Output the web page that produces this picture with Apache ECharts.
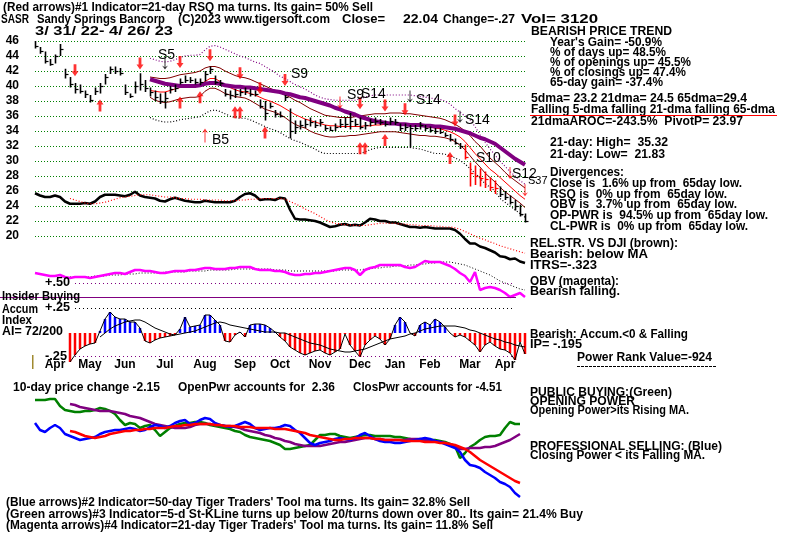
<!DOCTYPE html>
<html><head><meta charset="utf-8">
<script src="https://cdn.jsdelivr.net/npm/echarts@6/dist/echarts.min.js"></script>
<style>html,body{margin:0;padding:0;background:#fff}#c{width:800px;height:536px}</style>
</head><body><div id="c"></div>
<script>
// ---------- DATA ----------
const months = ['Apr','May','Jun','Jul','Aug','Sep','Oct','Nov','Dec','Jan','Feb','Mar','Apr'];
const monthIdx = [4,11,18,26,34,42,49,57,65,72,79,87,94];
const priceTicks = [20,22,24,26,28,30,32,34,36,38,40,42,44,46];

const hi = [46.0,45.2,44.6,43.6,44.2,45.6,42.3,41.2,40.4,40.2,
39.4,38.8,39.8,40.4,41.6,42.6,42.6,42.4,40.2,39.0,
40.6,41.7,40.8,39.8,39.4,39.0,39.2,40.0,40.2,41.0,
41.4,41.2,41.0,41.0,42.0,42.6,41.4,40.8,39.6,39.4,
39.6,39.6,39.8,39.6,39.4,38.2,38.0,37.8,36.8,36.6,
38.8,37.0,35.4,35.4,35.6,35.8,35.4,35.6,34.8,34.6,
35.0,35.6,35.8,36.4,35.6,35.8,35.2,35.6,35.8,35.6,
35.4,35.8,35.6,35.0,35.0,34.8,34.8,35.2,34.8,34.6,
34.4,34.4,33.8,33.6,33.0,32.4,32.2,29.8,29.4,29.0,
28.6,27.8,27.4,26.6,26.0,25.4,24.8,24.2,23.0];
const lo = [45.0,44.3,43.0,42.7,43.0,44.0,41.0,39.8,39.0,39.0,
38.4,37.8,38.8,39.0,40.2,41.6,41.6,41.4,38.8,38.4,
39.0,39.4,39.2,38.6,38.0,37.6,37.0,39.0,39.2,40.2,
40.4,40.4,40.2,40.1,40.6,41.6,40.2,40.0,38.6,38.2,
38.4,38.6,38.8,38.6,38.6,37.0,35.4,37.0,35.8,35.8,
38.0,33.0,33.6,34.2,34.4,34.6,34.4,34.6,34.0,34.0,
34.0,34.4,34.4,34.2,34.6,34.2,34.2,34.6,34.8,34.8,
34.6,34.8,34.8,34.0,34.0,31.8,34.0,34.2,34.0,33.8,
33.6,33.6,33.2,32.6,32.2,31.6,30.2,26.6,26.8,26.6,
26.4,26.0,25.6,25.2,24.8,24.2,23.4,22.6,21.8];
const cl = [45.3,44.6,43.3,43.0,44.0,45.0,41.6,40.2,39.6,39.4,
38.9,38.2,39.4,40.0,41.2,42.2,42.0,41.8,39.2,38.7,
40.0,40.2,39.8,39.2,38.6,38.0,38.4,39.6,39.8,40.6,
40.8,40.8,40.6,40.6,41.6,42.2,40.6,40.4,39.0,38.8,
39.0,39.2,39.4,39.0,39.0,37.4,36.4,37.4,36.2,36.0,
38.6,34.0,34.6,34.8,35.0,35.2,34.8,35.2,34.4,34.2,
34.6,35.0,35.0,35.4,35.0,34.6,34.8,35.2,35.4,35.2,
35.0,35.4,35.2,34.4,34.6,34.4,34.4,34.8,34.4,34.2,
34.0,33.9,33.5,33.0,32.4,32.0,30.6,28.4,28.0,27.8,
27.6,26.6,26.4,25.6,25.2,24.6,24.0,23.0,22.0];

const bandStart = 23;
const ma65 = [40.9,40.7,40.5,40.3,40.2,40.1,40.0,40.0,40.0,40.0,
40.1,40.3,40.4,40.4,40.3,40.1,40.0,39.9,39.9,39.8,
39.8,39.7,39.6,39.5,39.4,39.3,39.2,39.0,38.9,38.7,
38.5,38.4,38.2,38.0,37.8,37.6,37.4,37.1,36.9,36.6,
36.4,36.2,35.9,35.7,35.5,35.3,35.2,35.1,35.0,35.0,
34.9,34.9,34.8,34.8,34.8,34.7,34.7,34.6,34.6,34.5,
34.4,34.3,34.1,33.9,33.7,33.4,33.1,32.9,32.6,32.3,
31.8,31.3,30.8,30.3,29.9,29.5];
const ma21 = [39.4,39.3,39.2,39.2,39.4,39.6,39.8,39.9,40.0,40.1,
40.2,40.6,41.0,41.0,40.6,40.1,39.8,39.5,39.3,39.2,
39.0,38.8,38.5,38.2,38.0,37.7,37.4,37.0,36.6,36.2,
35.9,35.6,35.4,35.2,35.0,34.8,34.7,34.7,34.6,34.6,
34.6,34.6,34.6,34.7,34.7,34.8,34.8,34.9,34.9,34.9,
34.8,34.8,34.7,34.7,34.6,34.6,34.5,34.4,34.3,34.1,
33.9,33.6,33.2,32.6,31.8,31.0,30.3,29.6,28.9,28.4,
27.8,27.2,26.6,26.0,25.4,24.9];
const bandUp = [41.2,41.1,41.0,41.0,41.1,41.3,41.5,41.6,41.7,41.8,
42.0,42.4,42.6,42.6,42.4,42.0,41.7,41.4,41.2,41.1,
40.9,40.6,40.3,40.0,39.7,39.4,39.1,38.8,38.5,38.1,
37.8,37.4,37.0,36.7,36.4,36.1,36.0,35.9,35.8,35.8,
35.8,35.9,36.0,36.1,36.2,36.3,36.3,36.3,36.4,36.4,
36.4,36.3,36.3,36.2,36.1,36.0,35.9,35.8,35.7,35.5,
35.2,34.9,34.5,34.0,33.4,32.6,32.0,31.2,30.4,29.8,
29.2,28.5,27.9,27.4,26.9,26.4];
const bandLo = [38.5,38.1,37.9,37.8,37.9,38.1,38.3,38.4,38.5,38.5,
38.6,39.3,39.7,39.7,39.4,39.0,38.8,38.6,38.5,38.4,
38.1,37.7,37.3,36.9,36.7,36.5,36.2,35.8,35.3,34.9,
34.6,34.4,34.0,33.7,33.5,33.3,33.2,33.2,33.3,33.3,
33.4,33.4,33.5,33.6,33.7,33.8,33.9,33.9,33.9,33.9,
33.8,33.7,33.6,33.5,33.4,33.4,33.3,33.3,33.2,33.1,
32.9,32.6,32.1,31.5,30.7,29.9,29.2,28.4,27.8,27.2,
26.5,25.9,25.4,24.9,24.4,23.8];
const outerUp = [43.7,43.5,43.3,43.2,43.3,43.5,43.8,44.0,44.1,44.1,
44.2,44.8,45.3,45.4,45.2,44.9,44.6,44.3,44.0,43.8,
43.5,43.2,43.0,42.6,42.2,41.8,41.3,41.0,40.6,40.2,
39.9,39.6,39.2,38.8,38.5,38.3,38.2,38.1,38.1,38.1,
38.1,38.1,38.3,38.5,38.7,38.8,38.8,38.8,38.8,38.8,
38.8,38.8,38.8,38.7,38.6,38.5,38.4,38.3,38.2,38.0,
37.6,37.0,36.5,36.0,35.5,34.6,33.5,32.5,31.6,30.8,
30.0,29.3,28.6,28.0,27.4,26.9];
const outerLo = [35.8,35.5,35.3,35.2,35.2,35.3,35.5,35.6,35.7,35.8,
35.9,36.3,36.7,36.8,36.6,36.3,36.0,35.8,35.7,35.7,
35.5,35.2,34.9,34.6,34.3,34.1,33.8,33.4,33.0,32.7,
32.5,32.2,31.9,31.6,31.2,31.0,31.0,31.0,31.0,31.0,
31.0,31.0,31.0,31.2,31.5,31.7,31.8,31.8,31.8,31.8,
31.8,31.8,31.8,31.7,31.6,31.4,31.2,31.0,31.0,30.9,
30.7,30.4,30.1,29.6,29.0,28.4,27.7,27.0,26.5,26.0,
25.0,24.5,24.0,23.5,23.0,22.5];

const relStr = [25.7,25.4,25.2,25.2,25.4,25.2,24.6,24.3,24.3,24.3,
24.4,24.3,24.6,25.2,25.5,25.5,25.5,25.4,25.3,25.5,
25.9,25.4,25.2,25.1,25.0,24.7,24.6,24.9,25.1,24.9,
24.7,24.6,24.5,24.5,24.7,24.6,24.5,24.5,24.5,24.5,
24.7,25.2,25.6,25.7,25.4,24.8,24.9,24.9,24.8,25.1,
25.0,23.5,22.3,22.2,22.2,22.1,22.0,21.8,21.5,21.2,
21.3,21.5,21.6,21.4,21.5,21.4,21.8,22.3,22.2,22.0,
22.0,21.8,21.8,21.6,21.4,21.2,21.2,21.1,21.2,21.1,
21.0,21.0,21.0,21.0,20.8,20.3,19.6,19.0,19.0,18.6,
18.4,18.1,17.8,17.3,17.2,16.9,17.0,16.6,16.4];
const maStart = 7;
const relStrMa = [25.0,24.8,24.6,24.4,24.3,24.3,24.4,24.5,24.7,24.9,
25.1,25.2,25.3,25.4,25.5,25.5,25.5,25.4,25.3,25.2,
25.2,25.1,25.0,25.0,24.9,24.9,24.9,24.8,24.8,24.8,
24.8,24.7,24.7,24.7,24.8,24.8,24.9,24.9,25.0,25.0,
25.0,25.0,25.0,24.9,24.6,24.3,24.0,23.6,23.3,23.0,
22.6,22.2,21.9,21.7,21.6,21.5,21.5,21.4,21.4,21.4,
21.5,21.6,21.7,21.7,21.7,21.7,21.6,21.6,21.5,21.5,
21.4,21.4,21.4,21.3,21.3,21.2,21.2,21.1,20.9,20.6,
20.3,20.0,19.7,19.5,19.2,19.0,18.7,18.5,18.3,18.1,
17.9,17.7];

const obv = [0.60,0.59,0.58,0.57,0.57,0.58,0.56,0.55,0.56,0.56,
0.56,0.55,0.56,0.57,0.58,0.59,0.60,0.60,0.59,0.61,
0.63,0.63,0.62,0.62,0.61,0.60,0.60,0.61,0.62,0.62,
0.62,0.63,0.63,0.64,0.65,0.65,0.64,0.64,0.64,0.65,
0.65,0.66,0.66,0.66,0.64,0.63,0.63,0.63,0.62,0.62,
0.61,0.59,0.58,0.58,0.59,0.59,0.60,0.60,0.61,0.62,
0.63,0.64,0.65,0.65,0.63,0.58,0.63,0.65,0.66,0.68,
0.68,0.68,0.68,0.68,0.66,0.65,0.66,0.69,0.72,0.71,
0.71,0.71,0.69,0.67,0.64,0.60,0.57,0.51,0.61,0.43,
0.45,0.46,0.45,0.43,0.40,0.36,0.38,0.40,0.36];
const obvMa = [.56,.56,.56,.56,.56,.57,.57,.57,.58,.58,
.58,.59,.59,.59,.60,.60,.60,.60,.60,.61,
.61,.61,.61,.61,.62,.62,.62,.62,.63,.63,
.63,.63,.63,.64,.64,.64,.64,.64,.64,.64,
.64,.63,.63,.63,.62,.62,.62,.62,.62,.62,
.62,.62,.62,.62,.63,.63,.63,.63,.63,.64,
.64,.65,.65,.66,.66,.67,.67,.67,.68,.68,
.69,.69,.70,.70,.71,.71,.71,.70,.69,.68,
.66,.64,.62,.60,.58,.55,.52,.50,.48,.46,
.44,.43];

const accum = [-0.29,-0.22,-0.16,-0.13,-0.11,-0.10,0.02,0.14,0.21,0.16,
0.14,0.14,0.11,0.11,0.05,-0.08,-0.10,-0.07,-0.05,-0.04,
-0.03,-0.02,0.04,0.16,0.06,0.07,0.08,0.18,0.18,0.13,
0.08,-0.08,-0.09,-0.02,0.01,-0.04,0.08,0.09,0.09,0.08,
0.05,0.01,-0.04,-0.08,-0.14,-0.17,-0.20,-0.22,-0.20,-0.18,
-0.17,-0.20,-0.22,-0.19,-0.16,-0.01,-0.12,-0.18,-0.24,-0.12,
-0.07,-0.03,-0.06,-0.12,-0.06,0.08,0.16,0.11,0.00,-0.03,
0.08,0.11,0.08,0.14,0.11,0.06,0.00,-0.04,-0.02,-0.04,
-0.08,-0.12,-0.19,-0.12,-0.09,-0.13,-0.16,-0.17,-0.20,-0.27,
-0.09,-0.21];
const accumMaStart = 13;
const accumMa = [-0.04,0.00,0.04,0.07,0.09,0.11,0.12,0.13,0.13,0.11,
0.08,0.05,0.03,0.01,-0.01,-0.02,-0.01,0.00,0.01,0.02,
0.04,0.06,0.08,0.10,0.11,0.10,0.08,0.07,0.06,0.05,
0.04,0.03,0.02,0.01,0.01,0.01,0.00,0.00,-0.02,-0.04,
-0.06,-0.08,-0.10,-0.11,-0.12,-0.14,-0.16,-0.17,-0.18,-0.19,
-0.19,-0.18,-0.17,-0.16,-0.14,-0.12,-0.10,-0.08,-0.06,-0.05,
-0.04,-0.03,-0.01,0.00,0.02,0.04,0.05,0.06,0.07,0.07,
0.07,0.07,0.06,0.05,0.03,0.02,0.00,-0.02,-0.04,-0.06,
-0.07,-0.09,-0.10,-0.12,-0.13,-0.14];

const openPwr = [100,100,100,101,101,94,90,89,88,88,
89,89,90,92,91,89,86,80,75,77,
76,72,74,75,70,64,68,72,74,76,
77,77,78,78,77,75,74,73,72,71,
69,68,65,63,62,61,60,59,57,55,
51,51,52,53,54,55,60,65,65,66,
66,64,63,62,63,64,65,65,64,64,
64,64,63,63,62,61,60,60,60,60,
60,59,58,56,54,42,47,53,56,60,
63,64,64,65,72,78,76,76];
const closePwr = [77,70,68,72,75,72,66,64,62,60,
61,62,63,66,68,69,70,70,71,72,
71,69,70,73,75,74,72,74,77,79,
80,76,77,80,82,81,77,75,74,73,
74,76,78,76,72,70,71,72,72,73,
75,74,70,67,62,57,55,57,58,59,
61,62,61,60,62,65,67,64,61,59,
58,58,57,57,58,59,60,61,62,61,
59,58,56,54,52,48,40,35,34,32,
28,25,22,18,16,13,7,3];
const openPwrMa = [96,95,93,92,91,90,89,89,89,88,
87,86,84,83,82,80,78,76,75,74,
73,72,72,72,73,75,76,76,76,75,
75,74,74,73,72,70,69,68,67,65,
64,62,61,59,58,56,55,54,54,54,
54,55,56,57,58,58,59,60,61,62,
62,61,61,60,60,60,60,60,61,61,
61,60,59,59,58,57,55,53,51,51,
52,52,52,53,53,54,56,58,60,63,
66];
const closePwrMa = [69,68,66,64,63,62,63,64,66,67,
68,69,69,70,70,71,71,72,72,72,
73,74,74,75,75,76,76,76,76,75,
75,74,74,74,73,73,73,72,72,72,
72,71,71,71,70,69,68,67,65,64,
63,62,61,60,60,61,61,62,62,62,
62,61,61,60,60,60,60,59,59,59,
59,58,58,58,57,57,56,55,53,51,
48,44,40,37,34,31,28,25,22,19,
17];

// signal arrows: [dayIndex, price]
const sellArrows = [[8,42.1],[21,43.0],[29,43.2],[35,44.1],[41,41.7],[45,39.7],[50,40.8],[65,37.7],[70,37.4],[74,36.9],[84,35.4]];
const buyArrows = [[13,37.4],[29,37.8],[33,38.5],[40,36.5],[41,36.5],[46,33.8],[65,31.7],[66,31.7],[70,32.8],[83,30.4]];
const thinSellRed = [[61,37.8],[95,28.4],[98,26.1]];
const thinBuyRed = [[34,33.4]];
const thinSellBlack = [[26,43.0],[75,38.6],[85,35.9]];

// ---------- BUILD ----------
const N = hi.length;
const cats = Array.from({length:N}, (_, i) => { const k = monthIdx.indexOf(i); return k >= 0 ? months[k] : ''; });
const lead = (k, a) => Array(k).fill(null).concat(a);
const FF = '"Liberation Sans", Arial, sans-serif';
const redFrom = 86, redTo = 92;

const arrowPath = 'path://M5,0L10,5L7,5L7,12L3,12L3,5L0,5Z';
const thinPath = 'path://M3,0L6,4L3.5,2.5L3.5,12L2.5,12L2.5,2.5L0,4Z';

function line(data, xi, color, width, extra) {
  return Object.assign({type:'line', xAxisIndex:xi, yAxisIndex:xi, data, symbol:'none', showSymbol:false,
    lineStyle:{color, width}, silent:true, connectNulls:false}, extra||{});
}

const series = [
  line(lead(bandStart, outerUp), 0, '#800080', 1, {lineStyle:{color:'#800080', width:1.2, type:[1,2]}}),
  line(lead(bandStart, outerLo), 0, '#000', 1, {lineStyle:{color:'#000', width:1.2, type:[1,2]}}),
  line(lead(bandStart, bandUp), 0, '#800000', 1),
  line(lead(bandStart, bandLo), 0, '#800000', 1),
  line(lead(bandStart, ma21), 0, '#ff0000', 1),
  line(lead(bandStart, ma65), 0, '#800080', 4, {z:3}),
  line(relStr, 0, '#000', 2.5, {clip:false}),
  line(lead(maStart, relStrMa), 0, '#ff0000', 1, {clip:false, lineStyle:{color:'#ff0000', width:1.2, type:[1,2]}}),
  {
    type:'custom', xAxisIndex:0, yAxisIndex:0, z:4, silent:true,
    data: hi.map((h, i) => [i, lo[i], h, cl[i]]),
    encode:{x:0, y:[1,2,3]},
    renderItem(params, api) {
      const i = api.value(0);
      const pL = api.coord([i, api.value(1)]), pH = api.coord([i, api.value(2)]), pC = api.coord([i, api.value(3)]);
      const col = (i >= redFrom && i <= redTo) ? '#ff0000' : '#000';
      const x = Math.round(pL[0]) + 0.5;
      const yc = Math.round(pC[1]) + 0.5;
      return {type:'group', children:[
        {type:'line', shape:{x1:x, y1:pL[1], x2:x, y2:pH[1]}, style:{stroke:col, lineWidth:1.6}},
        {type:'line', shape:{x1:x, y1:yc, x2:x+3, y2:yc}, style:{stroke:col, lineWidth:1.2}}
      ]};
    }
  },
  {type:'scatter', xAxisIndex:0, yAxisIndex:0, data:sellArrows, symbol:arrowPath, symbolRotate:180, symbolSize:[7,12], itemStyle:{color:'#ff0000'}, z:6, silent:true},
  {type:'scatter', xAxisIndex:0, yAxisIndex:0, data:buyArrows, symbol:arrowPath, symbolSize:[7,12], itemStyle:{color:'#ff0000'}, z:6, silent:true},
  {type:'scatter', xAxisIndex:0, yAxisIndex:0, data:thinSellRed, symbol:thinPath, symbolRotate:180, symbolSize:[6,12], itemStyle:{color:'#ff0000'}, z:6, silent:true},
  {type:'scatter', xAxisIndex:0, yAxisIndex:0, data:thinBuyRed, symbol:thinPath, symbolSize:[6,14], itemStyle:{color:'#ff0000'}, z:6, silent:true},
  {type:'scatter', xAxisIndex:0, yAxisIndex:0, data:thinSellBlack, symbol:thinPath, symbolRotate:180, symbolSize:[6,12], itemStyle:{color:'#000'}, z:6, silent:true},

  // OBV / accumulation panel
  {type:'bar', xAxisIndex:1, yAxisIndex:1, data:lead(maStart, accum), barWidth:2.5, silent:true, clip:false,
    itemStyle:{color: p => (p.value >= 0 ? '#0000ff' : '#ff0000')},
    markLine:{silent:true, symbol:'none', label:{show:false}, animation:false, data:[
      [{coord:[8,0.5], lineStyle:{color:'#800080', type:[1,3], width:1}}, {coord:[96,0.5]}],
      [{coord:[8,0.25], lineStyle:{color:'#000', type:[1,3], width:1}}, {coord:[96,0.25]}],
      [{coord:[8,-0.235], lineStyle:{color:'#800080', type:[1,3], width:1}}, {coord:[96,-0.235]}]
    ]}},
  line(lead(maStart, accum), 1, '#000', 1, {clip:false}),
  line(lead(accumMaStart, accumMa), 1, '#000', 1),
  line(lead(maStart, obvMa), 1, '#000', 1, {lineStyle:{color:'#000', width:1, type:[1,2]}}),
  line(obv, 1, '#ff00ff', 2.5),

  // power panel
  line(openPwr, 2, '#008000', 2.5),
  line(lead(maStart, openPwrMa), 2, '#800080', 2.5),
  line(closePwr, 2, '#0000ff', 2.5),
  line(lead(maStart, closePwrMa), 2, '#ff0000', 2.5)
];

// text helper: optional target width -> horizontal scale to match the reference's narrow bitmap font
const mctx = document.createElement('canvas').getContext('2d');
function T(x, y, text, font, w, fill) {
  font = font || ('bold 12px ' + FF);
  let sx = 1;
  if (w) { mctx.font = font; const m = mctx.measureText(text).width; if (m > 0) sx = w / m; }
  return {type:'text', x, y, scaleX: sx, z:100, silent:true,
    style:{text, font, fill: fill || '#000', verticalAlign:'middle', align:'left'}};
}
const B = 'bold 12px ' + FF;
const S = '14px ' + FF;
const graphics = [
  T(3,8,'(Red arrows)#1 Indicator=21-day RSQ ma turns. Its gain= 50% Sell', B, 370),
  T(1,20,'SASR', B, 28), T(37,20,'Sandy Springs Bancorp', B, 128), T(178,20,'(C)2023 www.tigersoft.com', B, 152),
  T(342,20,'Close=', B, 43), T(403,20,'22.04', B, 35), T(443,20,'Change=-.27', B, 72), T(521,20,'Vol= 3120', B, 77),
  T(35,32,'3/ 31/ 22- 4/ 26/ 23', B, 138),

  T(531,32,'BEARISH PRICE TREND', B, 141),
  T(550,43,"Year's Gain= -50.9%", B, 112),
  T(550,53,'% of days up= 48.5%', B, 116),
  T(550,63,'% of openings up= 45.5%', B, 141),
  T(550,73,'% of closings up= 47.4%', B, 136),
  T(550,83,'65-day gain= -37.4%', B, 113),
  T(531,99,'5dma= 23.2 21dma= 24.5 65dma=29.4', B, 216),
  T(531,110,'Falling 5-dma falling 21-dma falling 65-dma', B, 244),
  {type:'line', shape:{x1:530, y1:115.5, x2:777, y2:115.5}, style:{stroke:'#ff0000', lineWidth:1}, z:100, silent:true},
  T(531,122,'21dmaAROC=-243.5%  PivotP= 23.97', B, 212),
  T(550,143,'21-day: High=  35.32', B, 118),
  T(550,155,'21-day: Low=  21.83', B, 115),
  T(550,173,'Divergences:', B, 74),
  T(550,184,'Close is  1.6% up from  65day low.', B, 192),
  T(550,195,'RSQ is  0% up from  65day low.', B, 177),
  T(550,205,'OBV is  3.7% up from  65day low.', B, 187),
  T(550,216,'OP-PWR is  94.5% up from  65day low.', B, 218),
  T(550,227,'CL-PWR is  0% up from  65day low.', B, 198),

  T(530,244,'REL.STR. VS DJI (brown):', B, 148),
  T(530,255,'Bearish: below MA', B, 118),
  T(530,266,'ITRS=-.323', B, 67),
  T(530,282,'OBV (magenta):', B, 89),
  T(530,292,'Bearish falling.', B, 90),
  T(530,335,'Bearish: Accum.<0 & Falling', B, 158),
  T(530,345,'IP= -.195', B, 52),
  T(577,358,'Power Rank Value=-924', B, 135),
  {type:'line', shape:{x1:577, y1:366.5, x2:716, y2:366.5}, style:{stroke:'#000', lineWidth:1, lineDash:[3,1]}, z:100, silent:true},

  T(530,393,'PUBLIC BUYING:(Green)', B, 142),
  T(530,402,'OPENING POWER', B, 105),
  T(530,411,'Opening Power>its Rising MA.', B, 159),
  T(530,447,'PROFESSIONAL SELLING: (Blue)', B, 192),
  T(530,456,'Closing Power < its Falling MA.', B, 175),

  T(45,283,'+.50', B, 25),
  {type:'line', shape:{x1:0, y1:297.5, x2:516, y2:297.5}, style:{stroke:'#800080', lineWidth:1}, z:50, silent:true},
  T(2,297,'Insider Buying', B, 78),
  T(2,310,'Accum', B, 36), T(45,308,'+.25', B, 25),
  T(2,321,'Index', B, 30),
  T(2,332,'AI= 72/200', B, 61),
  T(45,357,'-.25', B, 22),
  {type:'rect', shape:{x:32, y:355, width:1.5, height:14}, style:{fill:'#a08a30'}, z:100, silent:true},

  T(13,388,'10-day price change -2.15', B, 147),
  T(178,388,'OpenPwr accounts for  2.36', B, 157),
  T(353,388,'ClosPwr accounts for -4.51', B, 149),
  T(6,503,"(Blue arrows)#2 Indicator=50-day Tiger Traders' Tool ma turns. Its gain= 32.8% Sell", B, 464),
  T(6,515,'(Green arrows)#3 Indicator=5-d St-KLine turns up below 20/turns down over 80.. Its gain= 21.4% Buy', B, 577),
  T(6,526,"(Magenta arrows)#4 Indicator=21-day Tiger Traders' Tool ma turns. Its gain= 11.8% Sell", B, 487),

  T(158,55,'S5', S), T(212,140,'B5', S), T(291,74,'S9', S),
  T(347,95,'S9', S), T(361,94,'S14', S), T(416,100,'S14', S), T(465,120,'S14', S),
  T(476,158,'S10', S), T(512,174,'S12', S), T(528,181,'S37', '11px ' + FF)
];

const option = {
  animation:false,
  backgroundColor:'#fff',
  grid:[
    {left:35, right:275, top:41, height:195},
    {left:35, right:275, top:240, height:117},
    {left:35, right:275, top:390, height:110}
  ],
  xAxis:[
    {gridIndex:0, type:'category', data:cats, boundaryGap:false, show:false},
    {gridIndex:1, type:'category', data:cats, boundaryGap:false, axisLine:{show:false}, axisTick:{show:false}, splitLine:{show:false},
      axisLabel:{interval:0, fontWeight:'bold', fontSize:12, fontFamily:FF, color:'#000', margin:2}},
    {gridIndex:2, type:'category', data:cats, boundaryGap:false, show:false}
  ],
  yAxis:[
    {gridIndex:0, type:'value', min:priceTicks[0], max:priceTicks[priceTicks.length-1], interval:2,
      axisLine:{show:false}, axisTick:{show:false},
      axisLabel:{fontWeight:'bold', fontSize:12, fontFamily:FF, color:'#000', margin:16},
      splitLine:{lineStyle:{color:'#008000', type:[1,2], width:1}}},
    {gridIndex:1, type:'value', min:-0.24, max:0.93, show:false, splitLine:{show:false}},
    {gridIndex:2, type:'value', min:0, max:110, show:false, splitLine:{show:false}}
  ],
  series,
  graphic: graphics
};

const chart = echarts.init(document.getElementById('c'), null, {renderer:'canvas'});
chart.setOption(option);
</script>
</body></html>
